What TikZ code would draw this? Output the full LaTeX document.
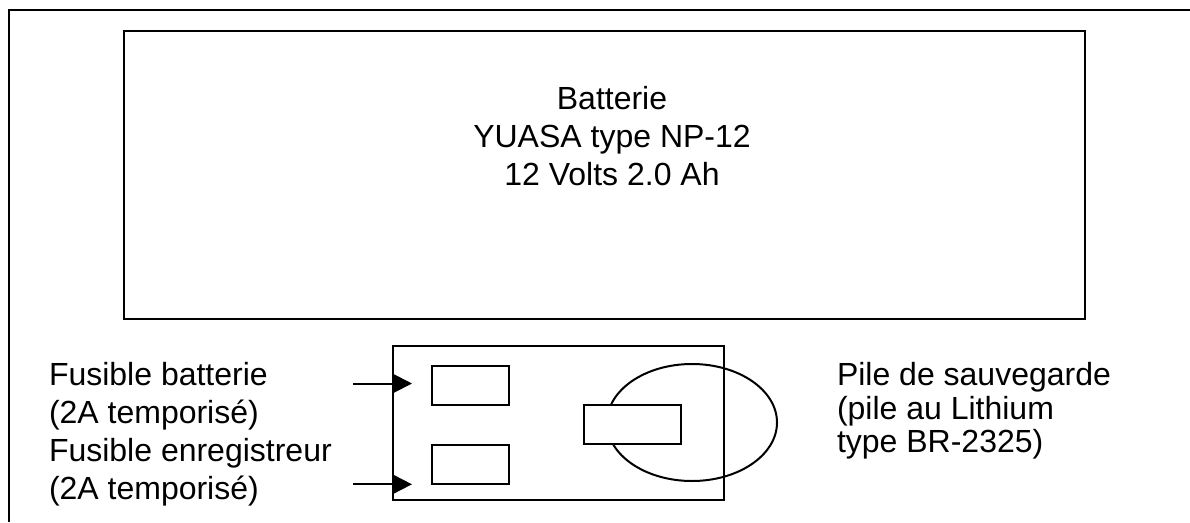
\documentclass[tikz,border=0pt]{standalone}
\usepackage{fontspec}
\setmainfont{Liberation Sans}
\usetikzlibrary{arrows.meta,shapes.geometric}
\begin{document}
\begin{tikzpicture}[x=1pt,y=-1pt,line width=2pt,
  box/.style={draw,line width=2pt,inner sep=0pt,outer sep=0pt,fill=white},
  cell/.style={draw,ellipse,line width=2pt,inner sep=0pt,outer sep=0pt},
  lbl/.style={inner sep=0pt,font=\fontsize{32}{38}\selectfont},
  lblr/.style={inner sep=0pt,font=\fontsize{32}{33.5}\selectfont},
  fusearrow/.style={-{Triangle[length=19pt,width=19pt]},line width=2pt}]
\useasboundingbox (0,0) rectangle (1190,522);
% outer frame
\draw (1190,10) -- (9,10) -- (9,522);
% battery
\node[box,minimum width=961pt,minimum height=288pt] (batt) at (604.5,175) {};
\node[lbl,anchor=base] (batttxt) at (612,109.5)
  {\begin{tabular}[t]{@{}c@{}}Batterie\\YUASA type NP-12\\12 Volts 2.0 Ah\end{tabular}};
% lower board
\node[box,minimum width=331pt,minimum height=153.5pt] (board) at (558.5,422.75) {};
\node[box,minimum width=77pt,minimum height=38.5pt] (fuse1) at (470,385.25) {};
\node[box,minimum width=77pt,minimum height=39pt] (fuse2) at (470,464.5) {};
\node[cell,minimum width=170pt,minimum height=117pt] (cellbody) at (692,422.5) {};
\node[box,minimum width=97pt,minimum height=39pt] (cellclip) at (632.5,424.5) {};
% labels
\node[lbl,anchor=base west] (fuselbl) at (48,385)
  {\begin{tabular}[t]{@{}l@{}}Fusible batterie\\(2A temporisé)\\Fusible enregistreur\\(2A temporisé)\end{tabular}};
\node[lblr,anchor=base west] (pilelbl) at (836,385.7)
  {\begin{tabular}[t]{@{}l@{}}Pile de sauvegarde\\(pile au Lithium\\type BR-2325)\end{tabular}};
% arrows
\coordinate (a1s) at (353,383.5);
\coordinate (a1t) at (412,383.5);
\coordinate (a2s) at (353,484.3);
\coordinate (a2t) at (412,484.3);
\draw[fusearrow] (a1s) -- (a1t);
\draw[fusearrow] (a2s) -- (a2t);
\end{tikzpicture}
\end{document}
